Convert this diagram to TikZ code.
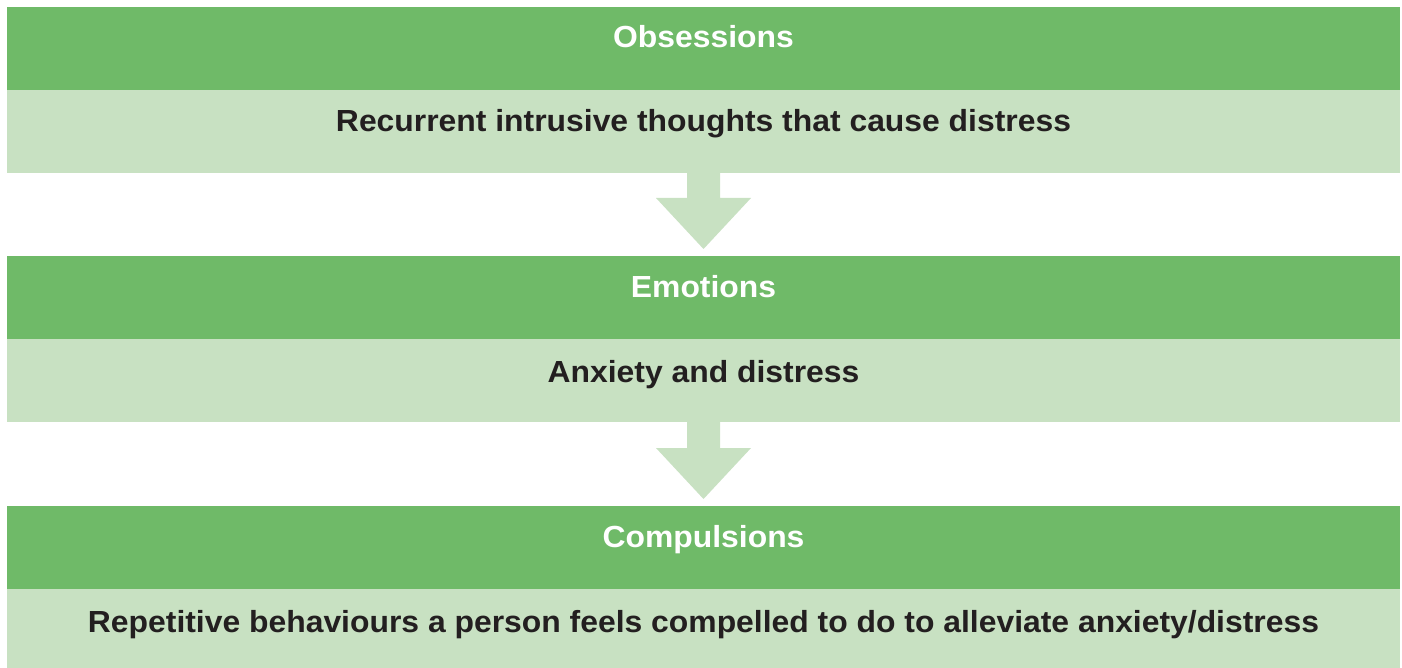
\documentclass[tikz,border=0pt]{standalone}
\usepackage{fontspec}
\setmainfont{Liberation Sans}[FakeStretch=1.045]
\usetikzlibrary{calc}
\definecolor{darkg}{RGB}{111,186,104}
\definecolor{lightg}{RGB}{200,225,194}
\definecolor{ink}{RGB}{35,31,32}
\begin{document}
\begin{tikzpicture}[x=1pt,y=1pt,
  band/.style={rectangle,inner sep=0pt,outer sep=0pt,minimum width=1393pt,minimum height=83pt,anchor=north west},
  headband/.style={band,fill=darkg},
  bodyband/.style={band,fill=lightg},
  htext/.style={anchor=base,inner sep=0pt,font=\bfseries\fontsize{30.5}{36}\selectfont,text=white},
  btext/.style={htext,text=ink},
  flow/.style={fill=lightg}]
\useasboundingbox[fill=white] (0,0) rectangle (1402,-668);
% block 1
\node[headband] (h1) at (7,-7) {};
\node[bodyband] (b1) at (7,-90) {};
% block 2
\node[headband] (h2) at (7,-256) {};
\node[bodyband] (b2) at (7,-339) {};
% block 3
\node[headband] (h3) at (7,-506) {};
\node[bodyband,minimum height=79pt] (b3) at (7,-589) {};
% texts
\node[htext] (t1) at ($(h1.north)+(0,-41)$) {Obsessions};
\node[btext] (u1) at ($(b1.north)+(0,-42)$) {Recurrent intrusive thoughts that cause distress};
\node[htext] (t2) at ($(h2.north)+(0,-41)$) {Emotions};
\node[btext] (u2) at ($(b2.north)+(0,-43)$) {Anxiety and distress};
\node[htext] (t3) at ($(h3.north)+(0,-41)$) {Compulsions};
\node[btext] (u3) at ($(b3.north)+(0,-43)$) {Repetitive behaviours a person feels compelled to do to alleviate anxiety/distress};
% arrows
\fill[flow] ($(b1.south)+(-16.5,0.5)$) -- ($(b1.south)+(-16.5,-25)$) -- ($(b1.south)+(-47.5,-25)$)
  -- ($(h2.north)+(0,7)$) -- ($(b1.south)+(47.5,-25)$) -- ($(b1.south)+(16.5,-25)$) -- ($(b1.south)+(16.5,0.5)$) -- cycle;
\fill[flow] ($(b2.south)+(-16.5,0.5)$) -- ($(b2.south)+(-16.5,-26)$) -- ($(b2.south)+(-47.5,-26)$)
  -- ($(h3.north)+(0,7)$) -- ($(b2.south)+(47.5,-26)$) -- ($(b2.south)+(16.5,-26)$) -- ($(b2.south)+(16.5,0.5)$) -- cycle;
\end{tikzpicture}
\end{document}
